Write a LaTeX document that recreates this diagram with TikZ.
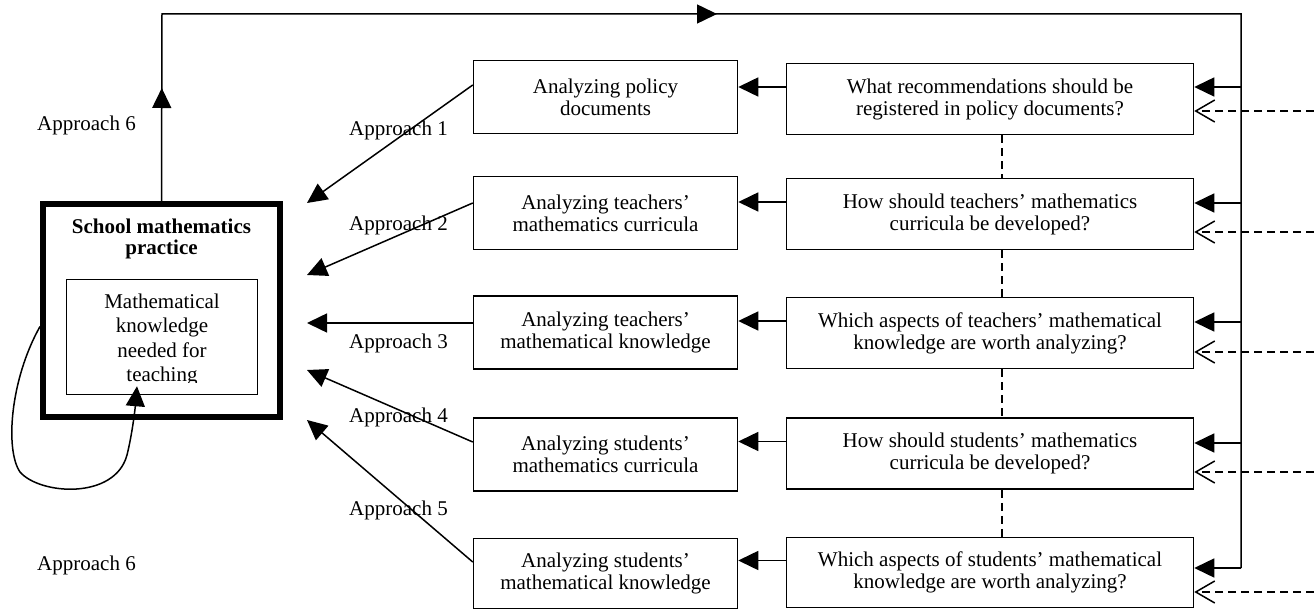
\documentclass[tikz,border=0pt]{standalone}
\usepackage{fontspec}
\setmainfont{Liberation Serif}
\usetikzlibrary{arrows.meta, decorations.markings}
\tikzset{
  basefont/.style={font=\fontsize{21}{22}\selectfont},
  abox/.style={
    rectangle, draw, line width=1.5pt,
    minimum width=264pt, minimum height=73pt,
    inner sep=0pt, align=center, basefont
  },
  qbox/.style={
    rectangle, draw, line width=1.5pt,
    minimum width=407pt, minimum height=71pt,
    inner sep=0pt, align=center, basefont
  },
  practicebox/.style={
    rectangle, draw, line width=6pt,
    minimum width=237pt, minimum height=213pt
  },
  mktbox/.style={
    rectangle, draw, line width=1.5pt,
    minimum width=191pt, minimum height=115pt
  },
  mkttext/.style={align=center, inner sep=0pt, font=\fontsize{21}{24.5}\selectfont},
  titletext/.style={align=center, inner sep=0pt, font=\fontsize{21}{21}\selectfont\bfseries},
  approach/.style={anchor=west, inner sep=0pt, basefont},
  flowarrow/.style={-{Triangle[length=20pt,width=19pt]}, line width=1.5pt},
  feedarrow/.style={-{Straight Barb[length=19pt,width=22pt]}, line width=1.5pt,
    dash pattern=on 8pt off 5pt},
  linkline/.style={line width=1.5pt, dash pattern=on 8pt off 5pt},
  busline/.style={line width=1.5pt, postaction={decorate},
    decoration={markings,
      mark=at position 113pt with {\arrow{Triangle[length=20pt,width=19pt]}},
      mark=at position 742pt with {\arrow{Triangle[length=20pt,width=19pt]}}}},
}

\begin{document}
\begin{tikzpicture}[x=1pt, y=-1pt]
  \useasboundingbox (0,0) rectangle (1314,609);

  % school practice
  \node[practicebox] (practice) at (161.5,310.5) {};
  \node[titletext] (title) at (161.5,238.5) {School mathematics\\practice};
  \node[mktbox] (mkt) at (162,337) {};
  \begin{scope}
    \clip (mkt.north west) rectangle ([yshift=13pt]mkt.south east);
    \node[mkttext] (mkttxt) at ([yshift=-3pt]mkt.center)
      {Mathematical\\knowledge\\needed for\\teaching};
  \end{scope}

  % analyses
  \node[abox] (a1) at (605.5,97)    {Analyzing policy\\documents};
  \node[abox] (a2) at (605.5,213)   {Analyzing teachers’\\mathematics curricula};
  \node[abox] (a3) at (605.5,332.5) {Analyzing teachers’\\mathematical knowledge};
  \node[abox] (a4) at (605.5,454.5) {Analyzing students’\\mathematics curricula};
  \node[abox, minimum height=70pt] (a5) at (605.5,573.5) {Analyzing students’\\mathematical knowledge};

  % questions
  \node[qbox] (q1) at (990,99)    {What recommendations should be\\registered in policy documents?};
  \node[qbox] (q2) at (990,214)   {How should teachers’ mathematics\\curricula be developed?};
  \node[qbox] (q3) at (990,333)   {Which aspects of teachers’ mathematical\\knowledge are worth analyzing?};
  \node[qbox] (q4) at (990,453.5) {How should students’ mathematics\\curricula be developed?};
  \node[qbox, minimum height=70pt] (q5) at (990,572.5) {Which aspects of students’ mathematical\\knowledge are worth analyzing?};

  % approach labels
  \node[approach] (ap1) at (349,130) {Approach 1};
  \node[approach] (ap2) at (349,225) {Approach 2};
  \node[approach] (ap3) at (349,343) {Approach 3};
  \node[approach] (ap4) at (349,417) {Approach 4};
  \node[approach] (ap5) at (349,510) {Approach 5};
  \node[approach] (ap6top) at (37,125) {Approach 6};
  \node[approach] (ap6bot) at (37,565) {Approach 6};

  % bus round the top
  \coordinate (busTL) at (162,14);
  \coordinate (busTR) at (1241,14);
  \coordinate (busBR) at (1241,568);
  \coordinate (edgeR) at (1314,0);
  \coordinate (link) at (1002,0);
  \draw[busline] (practice.north) -- (busTL) -- (busTR) -- (busBR);

  % question -> analysis
  \foreach \i in {1,...,5}{
    \coordinate (qa\i) at ([yshift=12pt]q\i.west);
    \draw[flowarrow] (qa\i) -- (qa\i -| a\i.east);
  }

  % bus and feedback into questions
  \foreach \i/\up/\dn in {1/12/12, 2/11/18, 3/11/19, 4/10.5/18.5, 5/4.5/19.5}{
    \coordinate (in\i) at ([yshift=\up pt]q\i.east);
    \draw[flowarrow] (in\i -| busTR) -- (in\i);
    \coordinate (fb\i) at ([yshift=-\dn pt]q\i.east);
    \draw[feedarrow] (fb\i -| edgeR) -- (fb\i);
  }

  % dashed links between questions
  \foreach \i/\j in {1/2, 2/3, 3/4, 4/5}
    \draw[linkline] (q\i.south -| link) -- (q\j.north -| link);

  % analysis -> practice
  \coordinate (tip1) at (307,203);
  \coordinate (tip2) at (307,275);
  \coordinate (tip3) at (307,323);
  \coordinate (tip4) at (307,370);
  \coordinate (tip5) at (307,420);
  \foreach \i/\up in {1/12, 2/10, 3/9.5, 4/12.5, 5/11.5}
    \draw[flowarrow] ([yshift=\up pt]a\i.west) -- (tip\i);

  % approach 6 loop
  \coordinate (loopA) at (20,472);
  \coordinate (loopB) at (127,455);
  \draw[flowarrow] ([yshift=-16pt]practice.west)
    .. controls (10,380) and (5,450) .. (loopA)
    .. controls (40,495) and (115,500) .. (loopB)
    .. controls (132,435) and (135,410) .. ([xshift=-25pt,yshift=9pt]mkt.south);
\end{tikzpicture}
\end{document}
